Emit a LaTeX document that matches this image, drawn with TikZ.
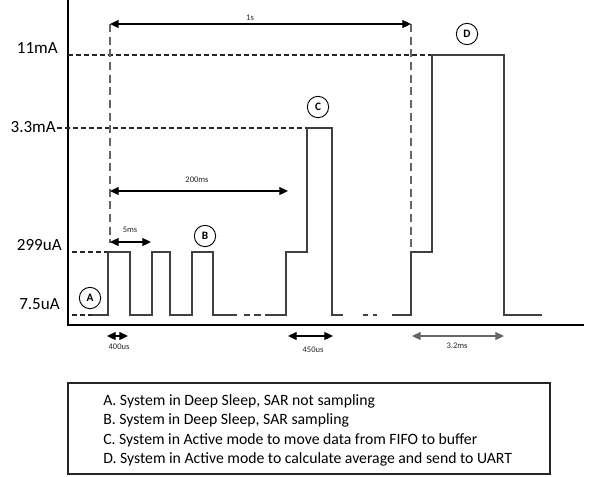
\documentclass[tikz,border=0pt]{standalone}
\usepackage{fontspec}
\setmainfont{Carlito}
\usetikzlibrary{arrows.meta}
\begin{document}
\begin{tikzpicture}[x=0.75pt,y=-0.75pt,
  axis/.style={line width=1.1pt,draw=black},
  sig/.style={line width=0.95pt,draw=black!75,line join=miter},
  refdash/.style={line width=0.8pt,draw=black!85,dash pattern=on 3.5pt off 2.5pt},
  vdash/.style={line width=1pt,draw=black!60,dash pattern=on 6pt off 3.5pt},
  dim/.style={line width=0.8pt,draw=black,{Triangle[length=6.5pt,width=6pt]}-{Triangle[length=6.5pt,width=6pt]}},
  lvl/.style={font=\fontsize{12.8}{14}\selectfont,inner sep=0pt,anchor=east},
  small/.style={font=\fontsize{6.4}{7}\selectfont,inner sep=0pt,text=black!85},
  tag/.style={circle,draw,line width=0.7pt,minimum size=16pt,inner sep=0pt,font=\fontsize{8.5}{9}\bfseries\selectfont},
  legend/.style={font=\fontsize{11.8}{13}\selectfont,inner sep=0pt,anchor=base west}
]
\useasboundingbox (0,0) rectangle (609,476);

% axes
\coordinate (yt) at (68,0);
\coordinate (or) at (68,325);
\coordinate (xr) at (584,325);
\draw[axis] (yt) -- (or) -- (xr);

% level labels
\node[lvl] (l11) at (58,48) {11mA};
\node[lvl] (l33) at (56,127) {3.3mA};
\node[lvl] (l299) at (62,245) {299uA};
\node[lvl] (l75) at (60,304) {7.5uA};

% reference dashed lines
\draw[refdash] (68,55) -- (432,55);
\draw[refdash] (57,128) -- (307,128);
\draw[refdash] (72,252) -- (108,252);
\draw[refdash] (72,315) -- (92,315);

% vertical dashed markers
\draw[vdash] (110,24) -- (110,243);
\draw[vdash] (411,24) -- (411,252);

% signal
\draw[sig] (92,315) -- (108,315) -- (108,252) -- (130,252) -- (130,315) -- (152,315) -- (152,252) -- (170,252) -- (170,315) -- (192,315) -- (192,252) -- (213,252) -- (213,315) -- (237,315);
\draw[sig] (244,315) -- (250,315) (254,315) -- (261,315);
\draw[sig] (265,315) -- (286,315) -- (286,252) -- (307,252) -- (307,128) -- (332,128) -- (332,315) -- (343,315);
\draw[sig] (363,315) -- (368,315) (373,315) -- (377,315);
\draw[sig] (392,315) -- (411,315) -- (411,252) -- (432,252) -- (432,55) -- (504,55) -- (504,315) -- (542,315);

% dimension arrows
\coordinate (a1s) at (110,24);  \coordinate (b1s) at (411,24);
\coordinate (a200) at (110,191); \coordinate (b200) at (288,191);
\coordinate (a5) at (110,242);  \coordinate (b5) at (151,242);
\coordinate (a400) at (107,336); \coordinate (b400) at (128,336);
\coordinate (a450) at (288,336); \coordinate (b450) at (333,336);
\coordinate (a32) at (412,336); \coordinate (b32) at (504,336);
\draw[dim] (a1s) -- (b1s);
\draw[dim] (a200) -- (b200);
\draw[dim] (a5) -- (b5);
\draw[dim] (a400) -- (b400);
\draw[dim] (a450) -- (b450);
\draw[dim,draw=black!60,fill=black!60] (a32) -- (b32);

\node[small] (t1s) at (250,18) {1s};
\node[small] (t200) at (197,180) {200ms};
\node[small] (t5) at (130,230) {5ms};
\node[small] (t400) at (119,347) {400us};
\node[small] (t450) at (313,350) {450us};
\node[small] (t32) at (457,346) {3.2ms};

% state tags
\node[tag] (cA) at (90,298) {A};
\node[tag] (cB) at (205,236) {B};
\node[tag] (cC) at (318,107) {C};
\node[tag] (cD) at (467,34) {D};

% legend
\draw[line width=0.8pt,draw=black!85] (68,383) rectangle (550,474);
\node[legend] (la) at (103,405) {A. System in Deep Sleep, SAR not sampling};
\node[legend] (lb) at (103,424.5) {B. System in Deep Sleep, SAR sampling};
\node[legend] (lc) at (103,444) {C. System in Active mode to move data from FIFO to buffer};
\node[legend] (ld) at (103,463.5) {D. System in Active mode to calculate average and send to UART};
\end{tikzpicture}
\end{document}
